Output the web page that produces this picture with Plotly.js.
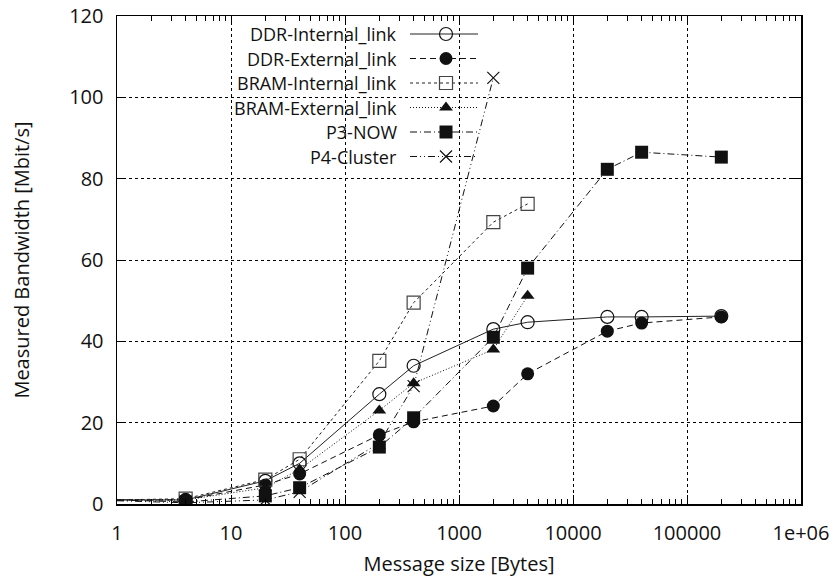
<!DOCTYPE html>
<html><head><meta charset="utf-8">
<script src="https://cdn.plot.ly/plotly-3.0.1.min.js"></script>
<style>html,body{margin:0;padding:0;background:#fff}#plot{width:836px;height:577px}</style>
</head><body><div id="plot"></div>
<script>
const seriesNames = ["DDR-Internal_link","DDR-External_link","BRAM-Internal_link","BRAM-External_link","P3-NOW","P4-Cluster"];
const xFull = [1,4,20,40,200,400,2000,4000,20000,40000,200000];
const xBram = [1,4,20,40,200,400,2000,4000];
const xP4 = [1,4,20,40,200,400,2000];
const ddrInternal = [1,1,5.7,10,27,34,43,44.7,46,46,46.2];
const ddrExternal = [1,1,4.7,7.4,17,20.2,24.1,32,42.5,44.5,46];
const bramInternal = [1,1.3,6,11,35.2,49.5,69.3,73.8];
const bramExternal = [1,1,4,8.5,23,29.7,38,51.2];
const p3Now = [1,0.5,2,4,14,21.2,41,58,82.3,86.5,85.3];
const p4Cluster = [0.8,0.3,1,3,15,29,104.8];
const xTickVals = [1,10,100,1000,10000,100000,1000000];
const xTickText = ["1","10","100","1000","10000","100000","1e+06"];
const yTickVals = [0,20,40,60,80,100,120];

const xs = [xFull,xFull,xBram,xBram,xFull,xP4];
const ys = [ddrInternal,ddrExternal,bramInternal,bramExternal,p3Now,p4Cluster];
const styles = [
  {dash:"solid", sym:"circle-open", size:13, color:"#111", lc:"#222"},
  {dash:"6px,4px", sym:"circle", size:13, color:"#111", lc:"#111"},
  {dash:"3px,3px", sym:"square-open", size:13, color:"#444", lc:"#222"},
  {dash:"1px,2px", sym:"triangle-up", size:12, color:"#111", lc:"#111"},
  {dash:"7px,3px,1px,3px", sym:"square", size:13, color:"#111", lc:"#111"},
  {dash:"7px,3px,1px,3px,1px,3px", sym:"x-thin-open", size:12, color:"#111", lc:"#111"}
];
const traces = [];
for (let i=0;i<6;i++){
  const s = styles[i];
  traces.push({
    x: xs[i], y: ys[i], type:"scatter", mode:"lines+markers", name: seriesNames[i],
    showlegend:false, cliponaxis:true,
    line:{color:s.lc, width:1, dash:s.dash},
    marker:{symbol:s.sym, opacity:1, size: xs[i].map(v => v===1 ? 0 : s.size), color:s.color,
            line:{color:s.color, width: s.sym.indexOf("open")>=0 ? 1.2 : 0}}
  });
}
// custom gnuplot-style key (text left, sample right)
const rowY = [34,58.5,83,107.5,132,156.5];
const annotations = [];
for (let i=0;i<6;i++){
  const s = styles[i];
  const yy = 1 - (rowY[i]-16)/488;
  traces.push({
    x:[(410-117)/684,(478-117)/684], y:[yy,yy], xaxis:"x2", yaxis:"y2", type:"scatter", mode:"lines",
    showlegend:false, hoverinfo:"skip", line:{color:s.lc,width:1,dash:s.dash}
  });
  traces.push({
    x:[(446-117)/684], y:[yy], xaxis:"x2", yaxis:"y2", type:"scatter", mode:"markers",
    showlegend:false, hoverinfo:"skip",
    marker:{symbol:s.sym,size:s.size,opacity:1,color:s.color,line:{color:s.color,width: s.sym.indexOf("open")>=0 ? 1.2 : 0}}
  });
  annotations.push({xref:"x2", yref:"y2", x:(399-117)/684, y:yy, xanchor:"right", yanchor:"middle",
    text:seriesNames[i], showarrow:false, font:{size:18, color:"#111"}});
}
const layout = {
  width:836, height:577,
  margin:{l:117, r:35, t:16, b:73},
  paper_bgcolor:"#fff", plot_bgcolor:"#fff",
  font:{family:"'Open Sans', 'Noto Sans', sans-serif", color:"#111", size:20},
  showlegend:false,
  xaxis:{type:"log", range:[0,6], tickvals:xTickVals, ticktext:xTickText,
    ticks:"inside", ticklen:9, tickwidth:1, tickcolor:"#000",
    showline:true, linecolor:"#000", linewidth:1.5, mirror:"ticks",
    showgrid:true, gridcolor:"#000", gridwidth:1, griddash:"dot", zeroline:false,
    minor:{ticks:"inside", ticklen:5, tickwidth:1, tickcolor:"#000", dtick:"D1", showgrid:false},
    ticklabelstandoff:10,
    tickfont:{size:20}, title:{text:"Message size [Bytes]", font:{size:20}, standoff:12}},
  yaxis:{range:[0,120], tickvals:yTickVals,
    ticks:"inside", ticklen:9, tickwidth:1, tickcolor:"#000",
    showline:true, linecolor:"#000", linewidth:1.5, mirror:"ticks",
    showgrid:true, gridcolor:"#000", gridwidth:1, griddash:"dot", zeroline:false,
    ticklabelstandoff:8,
    tickfont:{size:20}, title:{text:"Measured Bandwidth [Mbit/s]", font:{size:20}, standoff:34}},
  xaxis2:{overlaying:"x", range:[0,1], visible:false, fixedrange:true},
  yaxis2:{overlaying:"y", range:[0,1], visible:false, fixedrange:true},
  shapes:[{type:"rect", xref:"paper", yref:"paper", x0:0.002, x1:(487-117)/684, y0:1-(167-16)/488, y1:0.997,
    fillcolor:"#fff", line:{width:0}, layer:"between"}],
  annotations: annotations
};
Plotly.newPlot("plot", traces, layout, {displayModeBar:false, staticPlot:true});
</script></body></html>
